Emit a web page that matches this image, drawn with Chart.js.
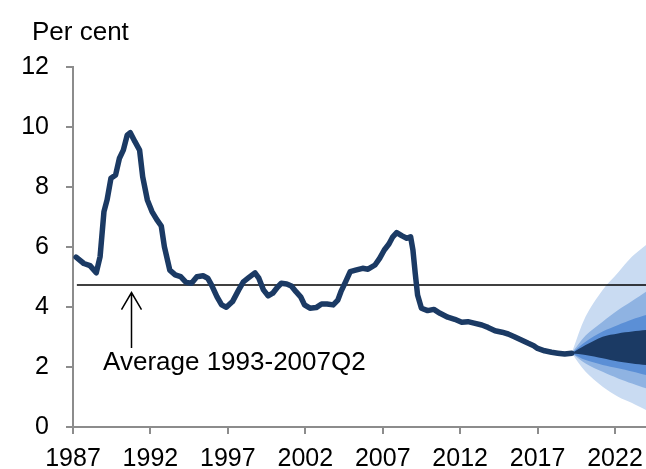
<!DOCTYPE html>
<html>
<head>
<meta charset="utf-8">
<script src="https://cdn.jsdelivr.net/npm/chart.js@4/dist/chart.umd.min.js"></script>
<style>
  body { margin: 0; background: #fff; }
  #wrap { width: 646px; height: 469px; position: relative; }
</style>
</head>
<body>
<div id="wrap"><canvas id="fanChart"></canvas></div>
<script>
  // history (year, per cent)
  const histYears = [1987.2, 1987.7, 1988.1, 1988.5, 1988.75, 1989.0, 1989.2, 1989.45, 1989.75, 1990.0,
    1990.25, 1990.5, 1990.7, 1991.0, 1991.3, 1991.5, 1991.8, 1992.1, 1992.4, 1992.7,
    1992.9, 1993.25, 1993.6, 1993.95, 1994.3, 1994.65, 1995.0, 1995.4, 1995.7, 1995.95,
    1996.3, 1996.6, 1996.9, 1997.3, 1997.7, 1998.0, 1998.3, 1998.75, 1999.0, 1999.3,
    1999.6, 1999.9, 2000.2, 2000.45, 2000.8, 2001.1, 2001.4, 2001.7, 2001.95, 2002.3,
    2002.7, 2003.05, 2003.4, 2003.8, 2004.1, 2004.3, 2004.6, 2004.9, 2005.25, 2005.7,
    2006.05, 2006.5, 2006.8, 2007.1, 2007.4, 2007.65, 2007.9, 2008.25, 2008.55, 2008.8,
    2008.95, 2009.1, 2009.25, 2009.5, 2009.9, 2010.3, 2010.7, 2011.2, 2011.65, 2012.1,
    2012.5, 2012.9, 2013.4, 2013.8, 2014.25, 2014.7, 2015.1, 2015.5, 2015.95, 2016.4,
    2016.75, 2017.0, 2017.45, 2017.9, 2018.3, 2018.75, 2019.2];
  const histValues = [5.66, 5.45, 5.38, 5.14, 5.68, 7.18, 7.57, 8.29, 8.4, 8.96,
    9.23, 9.73, 9.81, 9.51, 9.23, 8.34, 7.57, 7.18, 6.92, 6.7,
    6.01, 5.23, 5.07, 5.01, 4.82, 4.79, 5.01, 5.04, 4.96, 4.73,
    4.34, 4.07, 3.99, 4.18, 4.57, 4.84, 4.96, 5.14, 4.96, 4.57,
    4.37, 4.46, 4.66, 4.79, 4.77, 4.7, 4.51, 4.34, 4.07, 3.96,
    3.98, 4.1, 4.1, 4.07, 4.23, 4.51, 4.84, 5.18, 5.23, 5.29,
    5.26, 5.4, 5.62, 5.9, 6.1, 6.34, 6.48, 6.37, 6.29, 6.34,
    5.9, 5.12, 4.4, 3.96, 3.88, 3.92, 3.79, 3.66, 3.59, 3.49,
    3.51, 3.46, 3.4, 3.32, 3.21, 3.16, 3.1, 3.01, 2.9, 2.79,
    2.71, 2.62, 2.54, 2.49, 2.46, 2.43, 2.46];

  // projection fan bands
  const fanYears    = [2019.2, 2020.1, 2021.2, 2022.2, 2023.1, 2024.0];
  const outerHi     = [2.46, 3.68, 4.57, 5.15, 5.68, 6.07];
  const secondHi    = [2.46, 3.05, 3.51, 3.9, 4.2, 4.51];
  const thirdHi     = [2.46, 2.84, 3.18, 3.4, 3.58, 3.73];
  const centreHi    = [2.46, 2.73, 3.01, 3.12, 3.18, 3.23];
  const centreLo    = [2.46, 2.4, 2.29, 2.18, 2.12, 2.07];
  const thirdLo     = [2.46, 2.23, 2.07, 1.96, 1.85, 1.73];
  const secondLo    = [2.46, 2.12, 1.84, 1.62, 1.45, 1.29];
  const outerLo     = [2.46, 1.84, 1.34, 1.01, 0.8, 0.57];

  const averageValue = 4.73;
  const averageFrom = 1987.25;
  const arrowYear = 1990.72;
  const arrowFromTo = [4.48, 2.63];
  const noteText = "Average 1993-2007Q2";
  const notePos = [1988.94, 1.9];

  const xTickYears = [1987, 1992, 1997, 2002, 2007, 2012, 2017, 2022];
  const yTicks = [0, 2, 4, 6, 8, 10, 12];
  const unitLabel = "Per cent";

  const NAVY = "#1b3a64";
  const FONT = "'Liberation Sans', Arial, sans-serif";
  const AXIS = "#8c8c8c";

  const pts = (xs, ys) => xs.map((x, i) => ({ x: x, y: ys[i] }));

  function band(hi, lo, colour, idx) {
    return [
      { data: pts(fanYears, hi), borderWidth: 0, pointRadius: 0, tension: 0.3,
        backgroundColor: colour, fill: idx + 1 },
      { data: pts(fanYears, lo), borderWidth: 0, pointRadius: 0, tension: 0.3,
        backgroundColor: colour, fill: false }
    ];
  }

  const datasets = [
    { data: pts(histYears, histValues), borderColor: NAVY, borderWidth: 5.5, pointRadius: 0,
      fill: false, tension: 0, borderJoinStyle: "round", borderCapStyle: "round" },
    { data: [{ x: averageFrom, y: averageValue }, { x: 2024, y: averageValue }],
      borderColor: "#000", borderWidth: 1.5, pointRadius: 0, fill: false },
    ...band(centreHi, centreLo, NAVY, 2),
    ...band(thirdHi, thirdLo, "#5b8fd6", 4),
    ...band(secondHi, secondLo, "#8fb3e2", 6),
    ...band(outerHi, outerLo, "#c9dbf2", 8)
  ];

  const notes = {
    id: "notes",
    afterDraw(chart) {
      const c = chart.ctx, xs = chart.scales.x, ys = chart.scales.y;
      c.save();
      c.fillStyle = "#000";
      c.font = "26px " + FONT;
      c.textBaseline = "alphabetic";
      c.textAlign = "left";
      c.fillText(unitLabel, 32, 40);
      c.fillText(noteText, xs.getPixelForValue(notePos[0]), ys.getPixelForValue(notePos[1]));

      // arrow pointing up at the average line
      const ax = Math.round(xs.getPixelForValue(arrowYear)) + 0.5;
      const top = ys.getPixelForValue(arrowFromTo[0]);
      const bot = ys.getPixelForValue(arrowFromTo[1]);
      c.strokeStyle = "#000";
      c.lineWidth = 1.5;
      c.beginPath();
      c.moveTo(ax, bot);
      c.lineTo(ax, top);
      c.moveTo(ax - 10, top + 17);
      c.lineTo(ax, top);
      c.lineTo(ax + 10, top + 17);
      c.stroke();
      c.restore();
    }
  };

  new Chart(document.getElementById("fanChart"), {
    type: "line",
    data: { datasets: datasets },
    options: {
      responsive: true,
      maintainAspectRatio: false,
      animation: false,
      layout: { padding: { top: 67, right: 0, left: 0, bottom: 0 } },
      plugins: { legend: { display: false }, tooltip: { enabled: false } },
      scales: {
        x: {
          type: "linear",
          min: 1987,
          max: 2024,
          afterBuildTicks: axis => { axis.ticks = xTickYears.map(v => ({ value: v })); },
          afterFit: axis => {
            axis.height = 42;
            axis.paddingLeft = 0;
            axis.paddingRight = 0;
          },
          grid: { drawOnChartArea: false, drawTicks: true, tickLength: 7, color: AXIS, lineWidth: 2 },
          border: { display: true, color: AXIS, width: 2 },
          ticks: { color: "#000", font: { family: FONT, size: 25 }, padding: 10,
            maxRotation: 0, autoSkip: false, callback: v => String(v) }
        },
        y: {
          min: 0,
          max: 12,
          afterBuildTicks: axis => { axis.ticks = yTicks.map(v => ({ value: v })); },
          afterFit: axis => { axis.width = 73; },
          grid: { drawOnChartArea: false, drawTicks: true, tickLength: 7, color: AXIS, lineWidth: 2 },
          border: { display: true, color: AXIS, width: 2 },
          ticks: { color: "#000", font: { family: FONT, size: 25 }, padding: 17 }
        }
      }
    },
    plugins: [notes]
  });
</script>
</body>
</html>
